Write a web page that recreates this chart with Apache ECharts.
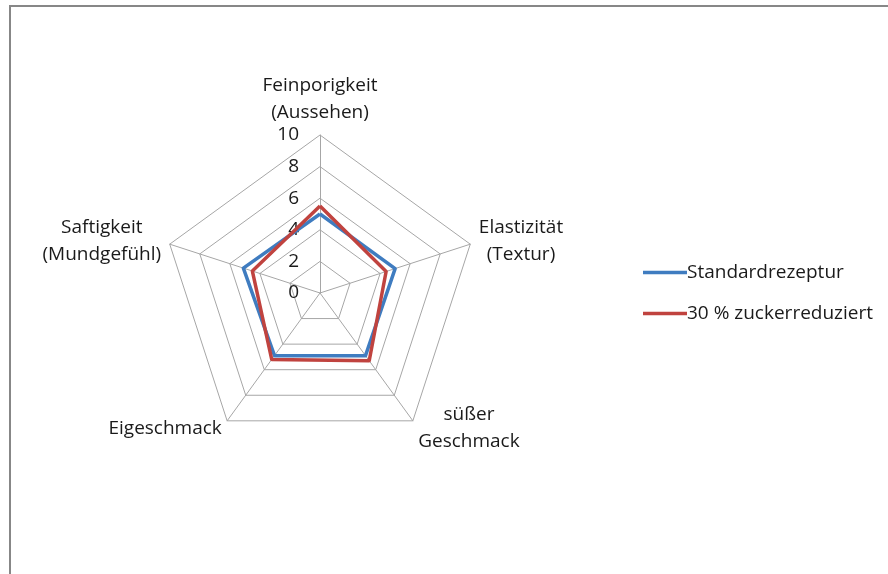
<!DOCTYPE html>
<html lang="de">
<head>
    <meta charset="utf-8"/>
    <title>Radar</title>
    <script src="https://cdn.jsdelivr.net/npm/echarts@6/dist/echarts.min.js"></script>
    <style>
        html, body { margin: 0; background: #FFFFFF; }
        #chart { width: 888px; height: 574px; }
        #frame {
            position: absolute; left: 9px; top: 5px; width: 900px; height: 600px;
            border-left: 2px solid #878787; border-top: 2px solid #878787;
            pointer-events: none;
        }
    </style>
</head>
<body>
<div id="chart"></div>
<div id="frame"></div>
<script>
    // Reihenfolge gegen den Uhrzeigersinn, beginnend oben
    var kriterien = ['Feinporigkeit\n(Aussehen)', 'Saftigkeit\n(Mundgefühl)', 'Eigeschmack', 'süßer\nGeschmack', 'Elastizität\n(Textur)'];
    var standard = [5.0, 5.1, 4.9, 4.9, 5.0];
    var reduziert = [5.5, 4.5, 5.2, 5.3, 4.4];
    var serienNamen = ['Standardrezeptur', '30 % zuckerreduziert'];

    var font = 'Open Sans';
    var fs = 19;
    var chart = echarts.init(document.getElementById('chart'));

    chart.setOption({
        animation: false,
        legend: {
            orient: 'vertical',
            left: 638,
            top: 258,
            itemGap: 22,
            itemWidth: 44,
            itemHeight: 14,
            icon: 'path://M0,6 L44,6 L44,9.5 L0,9.5 Z',
            textStyle: { fontFamily: font, fontSize: fs, color: '#1a1a1a', padding: [0, 0, 0, -5] },
            data: serienNamen
        },
        radar: {
            center: [320, 293],
            radius: 158,
            startAngle: 90,
            splitNumber: 5,
            shape: 'polygon',
            axisName: {
                fontFamily: font, fontSize: fs, color: '#1a1a1a', lineHeight: 27,
                // mehrzeilige Namen zentriert wie in Excel
                formatter: function (name) {
                    if (name.indexOf('\n') < 0) return name;
                    return name.split('\n').map(function (s) { return '{c|' + s + '}'; }).join('\n');
                },
                rich: {
                    c: { fontFamily: font, fontSize: fs, color: '#1a1a1a', lineHeight: 27, align: 'center' }
                }
            },
            nameGap: 9,
            splitArea: { show: false },
            splitLine: { lineStyle: { color: '#A6A6A6', width: 1 } },
            axisLine: { lineStyle: { color: '#A6A6A6', width: 1 } },
            axisLabel: { show: false },
            indicator: kriterien.map(function (n, i) {
                var ind = { name: n, min: 0, max: 10 };
                if (i === 0) {
                    ind.axisLabel = {
                        show: true, fontFamily: font, fontSize: fs, color: '#1a1a1a',
                        margin: 21, showMaxLabel: true, showMinLabel: true
                    };
                }
                return ind;
            })
        },
        series: [{
            type: 'radar',
            symbol: 'none',
            data: [
                { name: serienNamen[0], value: standard,
                  lineStyle: { color: '#3F7CC0', width: 3.5 }, itemStyle: { color: '#3F7CC0' } },
                { name: serienNamen[1], value: reduziert,
                  lineStyle: { color: '#C0433F', width: 3.5 }, itemStyle: { color: '#C0433F' } }
            ]
        }]
    });
</script>
</body>
</html>
